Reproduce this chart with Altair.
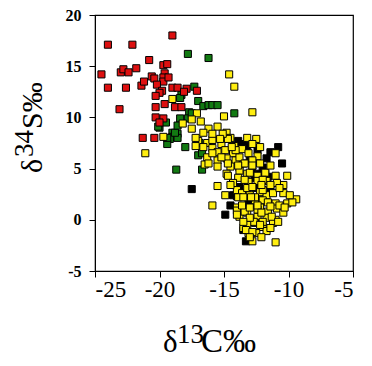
import altair as alt
import pandas as pd

# delta13C (x) and delta34S (y) values per group
red_x = [-24.5, -24.0, -24.0, -22.1, -19.0, -22.6, -23.0, -22.8, -22.4, -21.8,
         -20.8, -21.4, -21.2, -23.1, -20.6, -20.4, -19.7, -19.4, -19.6, -19.7,
         -19.7, -20.2, -19.3, -19.0, -18.6, -19.8, -20.0, -20.3, -20.3, -19.6,
         -18.8, -18.3, -20.3, -19.7, -20.0, -17.1, -17.9, -18.1, -21.3, -20.4]
red_y = [14.2, 17.1, 12.9, 17.1, 18.0, 12.9, 14.4, 14.7, 14.4, 14.8,
         15.6, 13.1, 13.5, 10.8, 14.0, 13.8, 15.1, 15.2, 14.3, 13.9,
         13.5, 13.2, 13.9, 12.9, 12.9, 12.6, 12.4, 12.1, 11.0, 11.3,
         11.0, 11.0, 10.0, 9.9, 9.5, 12.6, 12.8, 12.5, 8.0, 8.0]

green_x = [-17.8, -16.2, -17.3, -18.3, -18.4, -17.0, -16.6, -16.2, -15.9, -15.5,
           -17.7, -14.2, -18.4, -20.0, -19.5, -20.1, -19.0, -18.6, -19.0, -18.6,
           -19.2, -19.4, -18.0, -17.0, -16.7, -16.7, -18.7, -18.8, -17.8, -18.6,
           -19.4, -17.5, -16.9]
green_y = [16.2, 15.8, 13.0, 12.2, 11.9, 11.6, 11.1, 11.2, 11.2, 11.2,
           10.5, 10.4, 9.9, 9.0, 9.5, 9.1, 8.5, 8.4, 8.1, 8.0,
           7.9, 7.4, 7.1, 6.3, 6.5, 4.9, 4.9, 8.5, 9.9, 9.2,
           8.0, 10.4, 7.5]

black_x = [-13.9, -13.6, -13.2, -13.4, -10.8, -11.4, -11.7, -10.5, -12.0, -11.8,
           -11.6, -13.8, -12.8, -12.2, -12.6, -13.1, -13.8, -12.5, -14.0, -13.1,
           -12.8, -12.2, -14.5, -14.9, -14.3, -13.3, -13.5, -17.5, -11.4, -13.0,
           -12.4]
black_y = [7.7, 7.4, 7.2, 7.0, 7.1, 6.6, 6.0, 5.5, 5.1, 4.5,
           4.2, 5.1, 4.8, 4.5, 4.1, 3.4, 3.2, 3.1, 2.3, 1.7,
           1.6, 1.9, 1.4, 0.5, 2.4, -2.1, -1.0, 3.0, 2.9, 5.8,
           6.8]

yellow_x = [-14.6, -14.2, -19.0, -15.0, -12.8, -17.1, -16.8, -17.5, -18.2, -19.7,
            -21.1, -16.2, -15.5, -14.8, -16.6, -17.0, -16.3, -15.9, -15.2, -14.5,
            -14.2, -12.5, -13.2, -16.6, -15.9, -15.5, -14.9, -14.3, -13.6, -13.1,
            -12.4, -12.2, -11.0, -16.3, -15.5, -14.8, -14.1, -13.5, -12.8, -12.2,
            -16.5, -15.5, -14.5, -13.8, -13.2, -12.4, -11.8, -11.0, -10.4, -10.1,
            -14.8, -13.9, -13.1, -12.4, -11.7, -15.5, -14.0, -13.6, -13.0, -12.2,
            -11.7, -11.2, -10.4, -9.4, -13.9, -12.6, -12.0, -11.0, -10.1, -9.7,
            -15.9, -14.0, -13.2, -12.2, -11.6, -10.9, -10.4, -13.8, -12.4, -11.7,
            -11.0, -13.3, -12.6, -12.0, -11.2, -13.1, -12.5, -11.7, -11.0, -13.5,
            -12.0, -10.9, -12.0, -12.6, -11.6, -12.4, -11.3, -12.7, -12.0, -10.8,
            -12.8, -14.7, -13.2, -12.9, -13.5, -14.0, -14.0, -13.4, -13.2, -13.3,
            -12.8, -17.2, -17.5, -17.2, -14.7, -12.8, -13.8, -14.1, -16.2, -13.4,
            -14.7, -13.0, -15.1, -15.9, -15.3, -14.4, -15.2, -15.9, -13.9, -12.8,
            -11.4, -12.1, -11.4, -10.7, -13.4, -12.8, -14.3, -14.9, -14.5, -12.4,
            -13.0, -11.4, -10.7, -12.1, -13.0, -13.5, -12.2, -11.4, -13.0, -12.1,
            -10.3, -9.9, -13.6]
yellow_y = [14.2, 13.0, 11.8, 10.1, 10.5, 10.4, 9.6, 9.8, 9.4, 8.1,
            6.5, 8.9, 9.1, 8.5, 8.5, 7.7, 7.5, 7.8, 7.4, 8.0,
            7.2, 7.9, 8.0, 7.1, 7.0, 6.6, 6.8, 6.5, 6.9, 6.5,
            6.2, 7.1, 6.5, 6.1, 5.8, 6.0, 5.8, 5.5, 5.8, 5.5,
            5.4, 5.2, 5.2, 4.8, 4.5, 4.3, 4.6, 4.3, 3.4, 4.3,
            4.5, 4.1, 3.7, 3.8, 3.8, 3.3, 2.9, 2.6, 2.4, 2.7,
            2.4, 2.6, 2.6, 2.0, 2.2, 1.9, 1.9, 1.6, 1.6, 1.7,
            1.4, 1.2, 0.7, 1.2, 0.8, 1.1, 0.7, 0.3, 0.3, 0.2,
            0.0, -0.6, -0.3, -0.7, -0.3, -1.3, -1.3, -1.1, -2.2, -0.8,
            3.9, 3.6, 2.9, 2.2, 1.7, 1.0, 0.3, -0.2, -0.2, -0.2,
            -2.1, 4.3, 3.1, 2.2, 2.2, 0.9, 0.5, 0.8, -0.5, -1.0,
            -1.2, 7.2, 8.9, 8.0, 7.9, 7.4, 6.1, 6.8, 5.5, 5.5,
            5.5, 4.6, 8.4, 8.4, 7.9, 7.1, 6.1, 6.5, 5.3, 5.3,
            5.3, 3.4, 3.4, 3.1, 3.9, 3.2, 3.6, 2.4, 3.4, 1.4,
            1.2, 1.3, 1.4, 0.7, 0.2, -0.2, -0.5, -0.8, -1.7, -1.7,
            1.2, 2.4, 1.4]

groups = ["black", "green", "red", "yellow"]
colors = ["#000000", "#127a12", "#dd1010", "#ffee10"]

rows = []
for g, xs, ys in [("black", black_x, black_y), ("green", green_x, green_y),
                  ("red", red_x, red_y), ("yellow", yellow_x, yellow_y)]:
    for a, b in zip(xs, ys):
        rows.append({"c13": a, "s34": b, "group": g})
df = pd.DataFrame(rows)
df["order"] = range(len(df))

SERIF = "Liberation Serif"

points = alt.Chart(df).mark_square(
    size=50, stroke="black", strokeWidth=1, opacity=1
).encode(
    x=alt.X("c13:Q", scale=alt.Scale(domain=[-25, -5], nice=False, zero=False),
            axis=alt.Axis(values=[-25, -20, -15, -10, -5], title=None, grid=False,
                          labelFont=SERIF, labelFontSize=23, labelColor="black",
                          labelExpr="'' + datum.value", tickSize=6, labelPadding=1,
                          tickColor="black", domainColor="black")),
    y=alt.Y("s34:Q", scale=alt.Scale(domain=[-5, 20], nice=False, zero=False),
            axis=alt.Axis(values=[-5, 0, 5, 10, 15, 20], title=None, grid=False,
                          labelFont=SERIF, labelFontSize=16, labelFontWeight="bold",
                          labelColor="black", labelExpr="'' + datum.value",
                          tickSize=6, labelPadding=8,
                          tickColor="black", domainColor="black")),
    color=alt.Color("group:N", scale=alt.Scale(domain=groups, range=colors), legend=None),
    order=alt.Order("order:Q"),
)


def piece(text, x, y, size, angle=0):
    return alt.Chart(alt.Data(values=[{"k": 0}])).mark_text(
        text=text, font=SERIF, fontSize=size, align="left",
        baseline="alphabetic", angle=angle, color="black"
    ).encode(x=alt.value(x), y=alt.value(y))


titles = [
    piece("δ", 68, 337, 31),
    piece("13", 82, 328, 27),
    piece("C‰", 106, 337, 33),
    piece("δ", -53, 158, 30, 270),
    piece("34", -62, 142, 27, 270),
    piece("S‰", -53, 114, 30, 270),
]

chart = alt.layer(points, *titles).properties(
    width=258, height=256,
    autosize=alt.AutoSizeParams(type="none"),
    padding={"left": 87, "top": 7, "right": 11, "bottom": 88},
).configure_view(stroke="black", strokeWidth=1.2)

chart.save("out.html", embed_options={"renderer": "svg", "actions": False})
